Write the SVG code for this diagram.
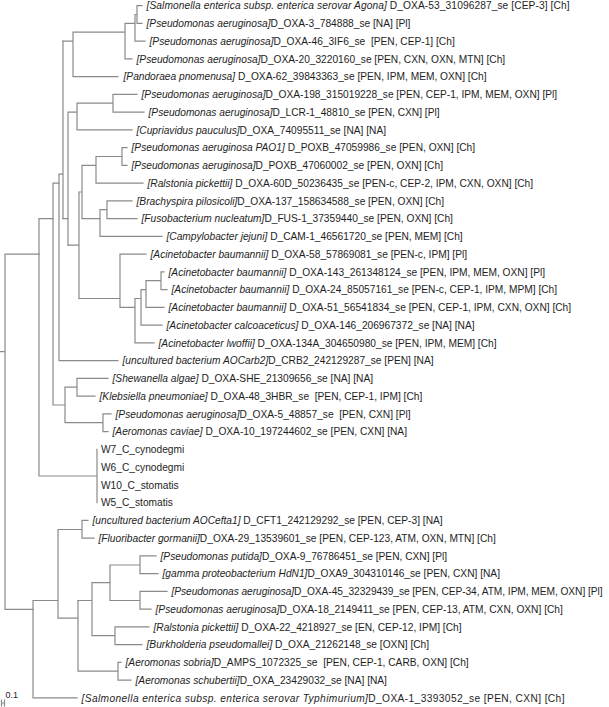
<svg xmlns="http://www.w3.org/2000/svg" width="609" height="707" viewBox="0 0 609 707">
<style>
.b{stroke:#8a8a8a;stroke-width:1.2;fill:none;stroke-linecap:square}
.t{font-family:"Liberation Sans",Arial,sans-serif;font-size:10.2px;fill:#1e1e1e;white-space:pre}
.i{font-style:italic}
</style>
<rect width="609" height="707" fill="#ffffff"/>
<g id="branches" class="b">
<path d="M0,351.7H5M5,254.1V609.35M5,254.1H39M5,609.35H33"/>
<path d="M39,218.6V476M39,218.6H53M39,476H97M97,449.35V502.6"/>
<path d="M53,183.1V405M53,183.1H59M53,405H65M65,387.2V422.7M65,387.2H77M77,378.35V396.1M77,378.35H108M77,396.1H95M65,422.7H103M103,413.85V431.6M103,413.85H111M103,431.6H108"/>
<path d="M59,174.2V360.6M59,360.6H118M59,174.2H63M63,41.1V218.6"/>
<path d="M63,41.1H73M73,32.2V76.6M73,76.6H118M73,32.2H125M125,23.35V58.85M125,58.85H132M125,23.35H135M135,14.5V41.1M135,41.1H145M135,14.5H137M137,5.6V23.35M137,5.6H142M137,23.35H142"/>
<path d="M63,218.6H68M68,112.1V245.2M68,112.1H77M77,103.2V129.85M77,129.85H132M77,103.2H113M113,94.35V112.1M113,94.35H137M113,112.1H144"/>
<path d="M68,245.2H79M79,192V298.5M79,192H82M82,165.35V218.6M82,165.35H96M96,156.5V183.1M96,183.1H143M96,156.5H122M122,147.6V165.35M122,147.6H127M122,165.35H127M82,218.6H100M100,209.7V236.35M100,236.35H162M100,209.7H107M107,200.85V218.6M107,200.85H132M107,218.6H137"/>
<path d="M79,298.5H120M120,254.1V307.35M120,254.1H146M120,307.35H135M135,298.5V342.85M135,342.85H154M135,298.5H141M141,289.6V325.1M141,325.1H162M141,289.6H146M146,280.7V307.35M146,307.35H164M146,280.7H161M161,271.85V289.6M161,271.85H164M161,289.6H167"/>
<path d="M33,600.5V697.85M33,697.85H77M33,600.5H58M58,529.5V618.2M58,529.5H82M82,520.35V538.1M82,520.35H88M82,538.1H94M58,618.2H78M78,600.5V671.2M78,671.2H118M118,662.35V680.1M118,662.35H121M118,680.1H131"/>
<path d="M78,600.5H92M92,582.7V635.7M92,635.7H115M115,626.85V644.6M115,626.85H149M115,644.6H142M92,582.7H110M110,565V600.5M110,565H140M140,555.85V573.6M140,555.85H156M140,573.6H158M110,600.5H140M140,591.35V609.1M140,591.35H167M140,609.1H151"/>
</g>
<g id="scale">
<path class="b" d="M1.5,703H4.5M1.5,700V706M4.5,700V706" stroke-width="0.8"/>
<text x="5.5" y="698" style="font-family:'Liberation Sans',Arial,sans-serif;font-size:9px;fill:#1e1e1e">0.1</text>
</g>
<g id="leaf01"><text class="t" x="146.5" y="9.3" textLength="423" lengthAdjust="spacing"><tspan class="i">[Salmonella enterica subsp. enterica serovar Agona]</tspan> D_OXA-53_31096287_se [CEP-3] [Ch]</text></g>
<g id="leaf02"><text class="t" x="146.5" y="27.05"><tspan class="i">[Pseudomonas aeruginosa]</tspan>D_OXA-3_784888_se [NA] [Pl]</text></g>
<g id="leaf03"><text class="t" x="149.5" y="44.8"><tspan class="i">[Pseudomonas aeruginosa]</tspan>D_OXA-46_3IF6_se  [PEN, CEP-1] [Ch]</text></g>
<g id="leaf04"><text class="t" x="136.5" y="62.55"><tspan class="i">[Pseudomonas aeruginosa]</tspan>D_OXA-20_3220160_se [PEN, CXN, OXN, MTN] [Ch]</text></g>
<g id="leaf05"><text class="t" x="123.5" y="80.3"><tspan class="i">[Pandoraea pnomenusa]</tspan> D_OXA-62_39843363_se [PEN, IPM, MEM, OXN] [Ch]</text></g>
<g id="leaf06"><text class="t" x="141.5" y="98.05"><tspan class="i">[Pseudomonas aeruginosa]</tspan>D_OXA-198_315019228_se [PEN, CEP-1, IPM, MEM, OXN] [Pl]</text></g>
<g id="leaf07"><text class="t" x="148.5" y="115.8"><tspan class="i">[Pseudomonas aeruginosa]</tspan>D_LCR-1_48810_se [PEN, CXN] [Pl]</text></g>
<g id="leaf08"><text class="t" x="136.5" y="133.55"><tspan class="i">[Cupriavidus pauculus]</tspan>D_OXA_74095511_se [NA] [NA]</text></g>
<g id="leaf09"><text class="t" x="131.5" y="151.3"><tspan class="i">[Pseudomonas aeruginosa PAO1]</tspan> D_POXB_47059986_se [PEN, OXN] [Ch]</text></g>
<g id="leaf10"><text class="t" x="131.5" y="169.05"><tspan class="i">[Pseudomonas aeruginosa]</tspan>D_POXB_47060002_se [PEN, OXN] [Ch]</text></g>
<g id="leaf11"><text class="t" x="147.5" y="186.8"><tspan class="i">[Ralstonia pickettii]</tspan> D_OXA-60D_50236435_se [PEN-c, CEP-2, IPM, CXN, OXN] [Ch]</text></g>
<g id="leaf12"><text class="t" x="136.5" y="204.55"><tspan class="i">[Brachyspira pilosicoli]</tspan>D_OXA-137_158634588_se [PEN, OXN] [Ch]</text></g>
<g id="leaf13"><text class="t" x="141.5" y="222.3"><tspan class="i">[Fusobacterium nucleatum]</tspan>D_FUS-1_37359440_se [PEN, OXN] [Ch]</text></g>
<g id="leaf14"><text class="t" x="166.5" y="240.05"><tspan class="i">[Campylobacter jejuni]</tspan> D_CAM-1_46561720_se [PEN, MEM] [Ch]</text></g>
<g id="leaf15"><text class="t" x="150.5" y="257.8"><tspan class="i">[Acinetobacter baumannii]</tspan> D_OXA-58_57869081_se [PEN-c, IPM] [Pl]</text></g>
<g id="leaf16"><text class="t" x="168.5" y="275.55"><tspan class="i">[Acinetobacter baumannii]</tspan> D_OXA-143_261348124_se [PEN, IPM, MEM, OXN] [Pl]</text></g>
<g id="leaf17"><text class="t" x="171.5" y="293.3"><tspan class="i">[Acinetobacter baumannii]</tspan> D_OXA-24_85057161_se [PEN-c, CEP-1, IPM, MPM] [Ch]</text></g>
<g id="leaf18"><text class="t" x="168.5" y="311.05"><tspan class="i">[Acinetobacter baumannii]</tspan> D_OXA-51_56541834_se [PEN, CEP-1, IPM, CXN, OXN] [Ch]</text></g>
<g id="leaf19"><text class="t" x="166.5" y="328.8"><tspan class="i">[Acinetobacter calcoaceticus]</tspan> D_OXA-146_206967372_se [NA] [NA]</text></g>
<g id="leaf20"><text class="t" x="158.5" y="346.55"><tspan class="i">[Acinetobacter lwoffii]</tspan> D_OXA-134A_304650980_se [PEN, IPM, MEM] [Ch]</text></g>
<g id="leaf21"><text class="t" x="122.5" y="364.3"><tspan class="i">[uncultured bacterium AOCarb2]</tspan>D_CRB2_242129287_se [PEN] [NA]</text></g>
<g id="leaf22"><text class="t" x="112.5" y="382.05"><tspan class="i">[Shewanella algae]</tspan> D_OXA-SHE_21309656_se [NA] [NA]</text></g>
<g id="leaf23"><text class="t" x="99.5" y="399.8"><tspan class="i">[Klebsiella pneumoniae]</tspan> D_OXA-48_3HBR_se  [PEN, CEP-1, IPM] [Ch]</text></g>
<g id="leaf24"><text class="t" x="115.5" y="417.55"><tspan class="i">[Pseudomonas aeruginosa]</tspan>D_OXA-5_48857_se  [PEN, CXN] [Pl]</text></g>
<g id="leaf25"><text class="t" x="112.5" y="435.3"><tspan class="i">[Aeromonas caviae]</tspan> D_OXA-10_197244602_se [PEN, CXN] [NA]</text></g>
<g id="leaf26"><text class="t" x="101" y="453.05">W7_C_cynodegmi</text></g>
<g id="leaf27"><text class="t" x="101" y="470.8">W6_C_cynodegmi</text></g>
<g id="leaf28"><text class="t" x="101" y="488.55">W10_C_stomatis</text></g>
<g id="leaf29"><text class="t" x="101" y="506.3">W5_C_stomatis</text></g>
<g id="leaf30"><text class="t" x="92.5" y="524.05"><tspan class="i">[uncultured bacterium AOCefta1]</tspan> D_CFT1_242129292_se [PEN, CEP-3] [NA]</text></g>
<g id="leaf31"><text class="t" x="98.5" y="541.8"><tspan class="i">[Fluoribacter gormanii]</tspan>D_OXA-29_13539601_se [PEN, CEP-123, ATM, OXN, MTN] [Ch]</text></g>
<g id="leaf32"><text class="t" x="160.5" y="559.55"><tspan class="i">[Pseudomonas putida]</tspan>D_OXA-9_76786451_se [PEN, CXN] [Pl]</text></g>
<g id="leaf33"><text class="t" x="162.5" y="577.3"><tspan class="i">[gamma proteobacterium HdN1]</tspan>D_OXA9_304310146_se [PEN, CXN] [NA]</text></g>
<g id="leaf34"><text class="t" x="171.5" y="595.05" textLength="431" lengthAdjust="spacing"><tspan class="i">[Pseudomonas aeruginosa]</tspan>D_OXA-45_32329439_se [PEN, CEP-34, ATM, IPM, MEM, OXN] [Pl]</text></g>
<g id="leaf35"><text class="t" x="155.5" y="612.8"><tspan class="i">[Pseudomonas aeruginosa]</tspan>D_OXA-18_2149411_se [PEN, CEP-13, ATM, CXN, OXN] [Ch]</text></g>
<g id="leaf36"><text class="t" x="153.5" y="630.55"><tspan class="i">[Ralstonia pickettii]</tspan> D_OXA-22_4218927_se [EN, CEP-12, IPM] [Ch]</text></g>
<g id="leaf37"><text class="t" x="146.5" y="648.3"><tspan class="i">[Burkholderia pseudomallei]</tspan> D_OXA_21262148_se [OXN] [Ch]</text></g>
<g id="leaf38"><text class="t" x="125.5" y="666.05"><tspan class="i">[Aeromonas sobria]</tspan>D_AMPS_1072325_se  [PEN, CEP-1, CARB, OXN] [Ch]</text></g>
<g id="leaf39"><text class="t" x="135.5" y="683.8"><tspan class="i">[Aeromonas schubertii]</tspan>D_OXA_23429032_se [NA] [NA]</text></g>
<g id="leaf40"><text class="t" x="81.5" y="701.55" textLength="483" lengthAdjust="spacing"><tspan class="i">[Salmonella enterica subsp. enterica serovar Typhimurium]</tspan>D_OXA-1_3393052_se [PEN, CXN] [Ch]</text></g>
</svg>
